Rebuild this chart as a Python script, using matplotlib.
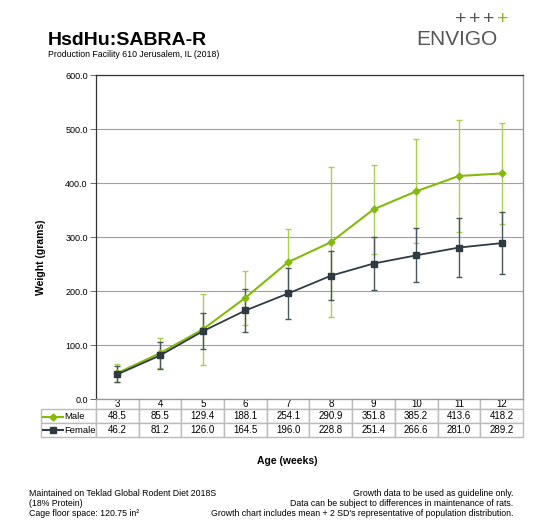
import matplotlib
matplotlib.use("Agg")
import matplotlib.pyplot as plt

plt.rcParams['font.family'] = ['Liberation Sans', 'DejaVu Sans']

weeks = [3, 4, 5, 6, 7, 8, 9, 10, 11, 12]
male = [48.5, 85.5, 129.4, 188.1, 254.1, 290.9, 351.8, 385.2, 413.6, 418.2]
female = [46.2, 81.2, 126.0, 164.5, 196.0, 228.8, 251.4, 266.6, 281.0, 289.2]
# error bar half-lengths (2 SD)
male_err = [17, 28, 65, 50, 61, 139, 83, 96, 104, 93]
female_err = [15, 25, 33, 40, 48, 45, 49, 50, 55, 57]

green = '#84bb0b'
green_light = '#a9d14e'
dark = '#2e3b43'
dark_err = '#4a555c'

fig = plt.figure(figsize=(5.58, 5.28), dpi=100)
ax = fig.add_axes([96/558, 1-399.3/528, 427/558, 324/528])

ax.errorbar(weeks, male, yerr=male_err, fmt='none', ecolor=green_light, elinewidth=1, capsize=2, capthick=1, zorder=3)
ax.errorbar(weeks, female, yerr=female_err, fmt='none', ecolor=dark_err, elinewidth=1, capsize=2, capthick=1, zorder=3)
ax.plot(weeks, male, color=green, lw=1.5, marker='D', ms=3.5, zorder=4)
ax.plot(weeks, female, color=dark, lw=1.3, marker='s', ms=5, zorder=5)

ax.set_xlim(2.5, 12.5)
ax.set_ylim(0, 600)
ax.set_yticks(range(0, 601, 100))
ax.set_yticklabels([f"{v:.1f}" for v in range(0, 601, 100)], fontsize=6.5)
ax.set_xticks([])
ax.tick_params(axis='y', length=4, width=0.6, color='#555555', pad=2)
ax.yaxis.grid(True, color='#a0a0a0', lw=0.8)
ax.set_axisbelow(True)
for s in ['top', 'left']:
    ax.spines[s].set_color('#333333')
    ax.spines[s].set_linewidth(0.9)
ax.spines['right'].set_color('#999999')
ax.spines['right'].set_linewidth(1.0)
ax.spines['bottom'].set_color('#999999')
ax.set_ylabel('Weight (grams)', fontsize=7.5, fontweight='bold')
ax.yaxis.set_label_coords(-50/427, (399.3-257)/324)

# data table under the chart
cell_text = [[''] + [str(w) for w in weeks],
             [''] + [f"{v:.1f}" for v in male],
             [''] + [f"{v:.1f}" for v in female]]
label_w = 55.3 / 427
col_w = 0.1
tab = ax.table(cellText=cell_text, colWidths=[label_w] + [col_w]*10,
               cellLoc='center', bbox=[-label_w, -38/324, 1 + label_w, 38/324])
tab.auto_set_font_size(False)
tab.set_fontsize(7)
for (r, c), cell in tab.get_celld().items():
    cell.set_edgecolor('#bbbbbb')
    cell.set_linewidth(1.0)
    if r == 0 and c == 0:
        cell.visible_edges = ''
    if r == 0:
        cell.set_height(cell.get_height() * 0.7)
tab_rows = {1: ('Male', green, 'D', 3.5), 2: ('Female', dark, 's', 4.5)}
row_y = {1: -(17.5)/324, 2: -(31)/324}
for r, (name, col, mk, ms) in tab_rows.items():
    y = row_y[r]
    ax.plot([-53/427, -33/427], [y, y], color=col, lw=1.5, transform=ax.transAxes, clip_on=False)
    ax.plot([-43/427], [y], color=col, marker=mk, ms=ms, transform=ax.transAxes, clip_on=False)
    ax.text(-32/427, y, name, fontsize=6.8, va='center', ha='left', transform=ax.transAxes)

fig.text(287/558, 1-461/528, 'Age (weeks)', fontsize=7.5, fontweight='bold', ha='center', va='center')

# header
fig.text(48/558, 1-40.5/528, 'HsdHu:SABRA-R', fontsize=14, fontweight='bold', ha='left', va='center')
fig.text(48/558, 1-54.5/528, 'Production Facility 610 Jerusalem, IL (2018)', fontsize=6.3, ha='left', va='center')
for i, px in enumerate([461, 475, 489, 503]):
    fig.text(px/558, 1-19/528, '+', fontsize=14, color=green if i == 3 else '#555555',
             ha='center', va='center')
fig.text(498/558, 1-39.5/528, 'ENVIGO', fontsize=15, color='#555555', ha='right', va='center')

# footer
left_notes = ['Maintained on Teklad Global Rodent Diet 2018S', '(18% Protein)', 'Cage floor space: 120.75 in²']
right_notes = ['Growth data to be used as guideline only.',
               'Data can be subject to differences in maintenance of rats.',
               "Growth chart includes mean + 2 SD's representative of population distribution."]
for i, t in enumerate(left_notes):
    fig.text(29/558, 1-(493 + 10.2*i)/528, t, fontsize=6.3, ha='left', va='center')
for i, t in enumerate(right_notes):
    fig.text(513/558, 1-(493 + 10.2*i)/528, t, fontsize=6.3, ha='right', va='center')

fig.savefig('out.png', dpi=100)
